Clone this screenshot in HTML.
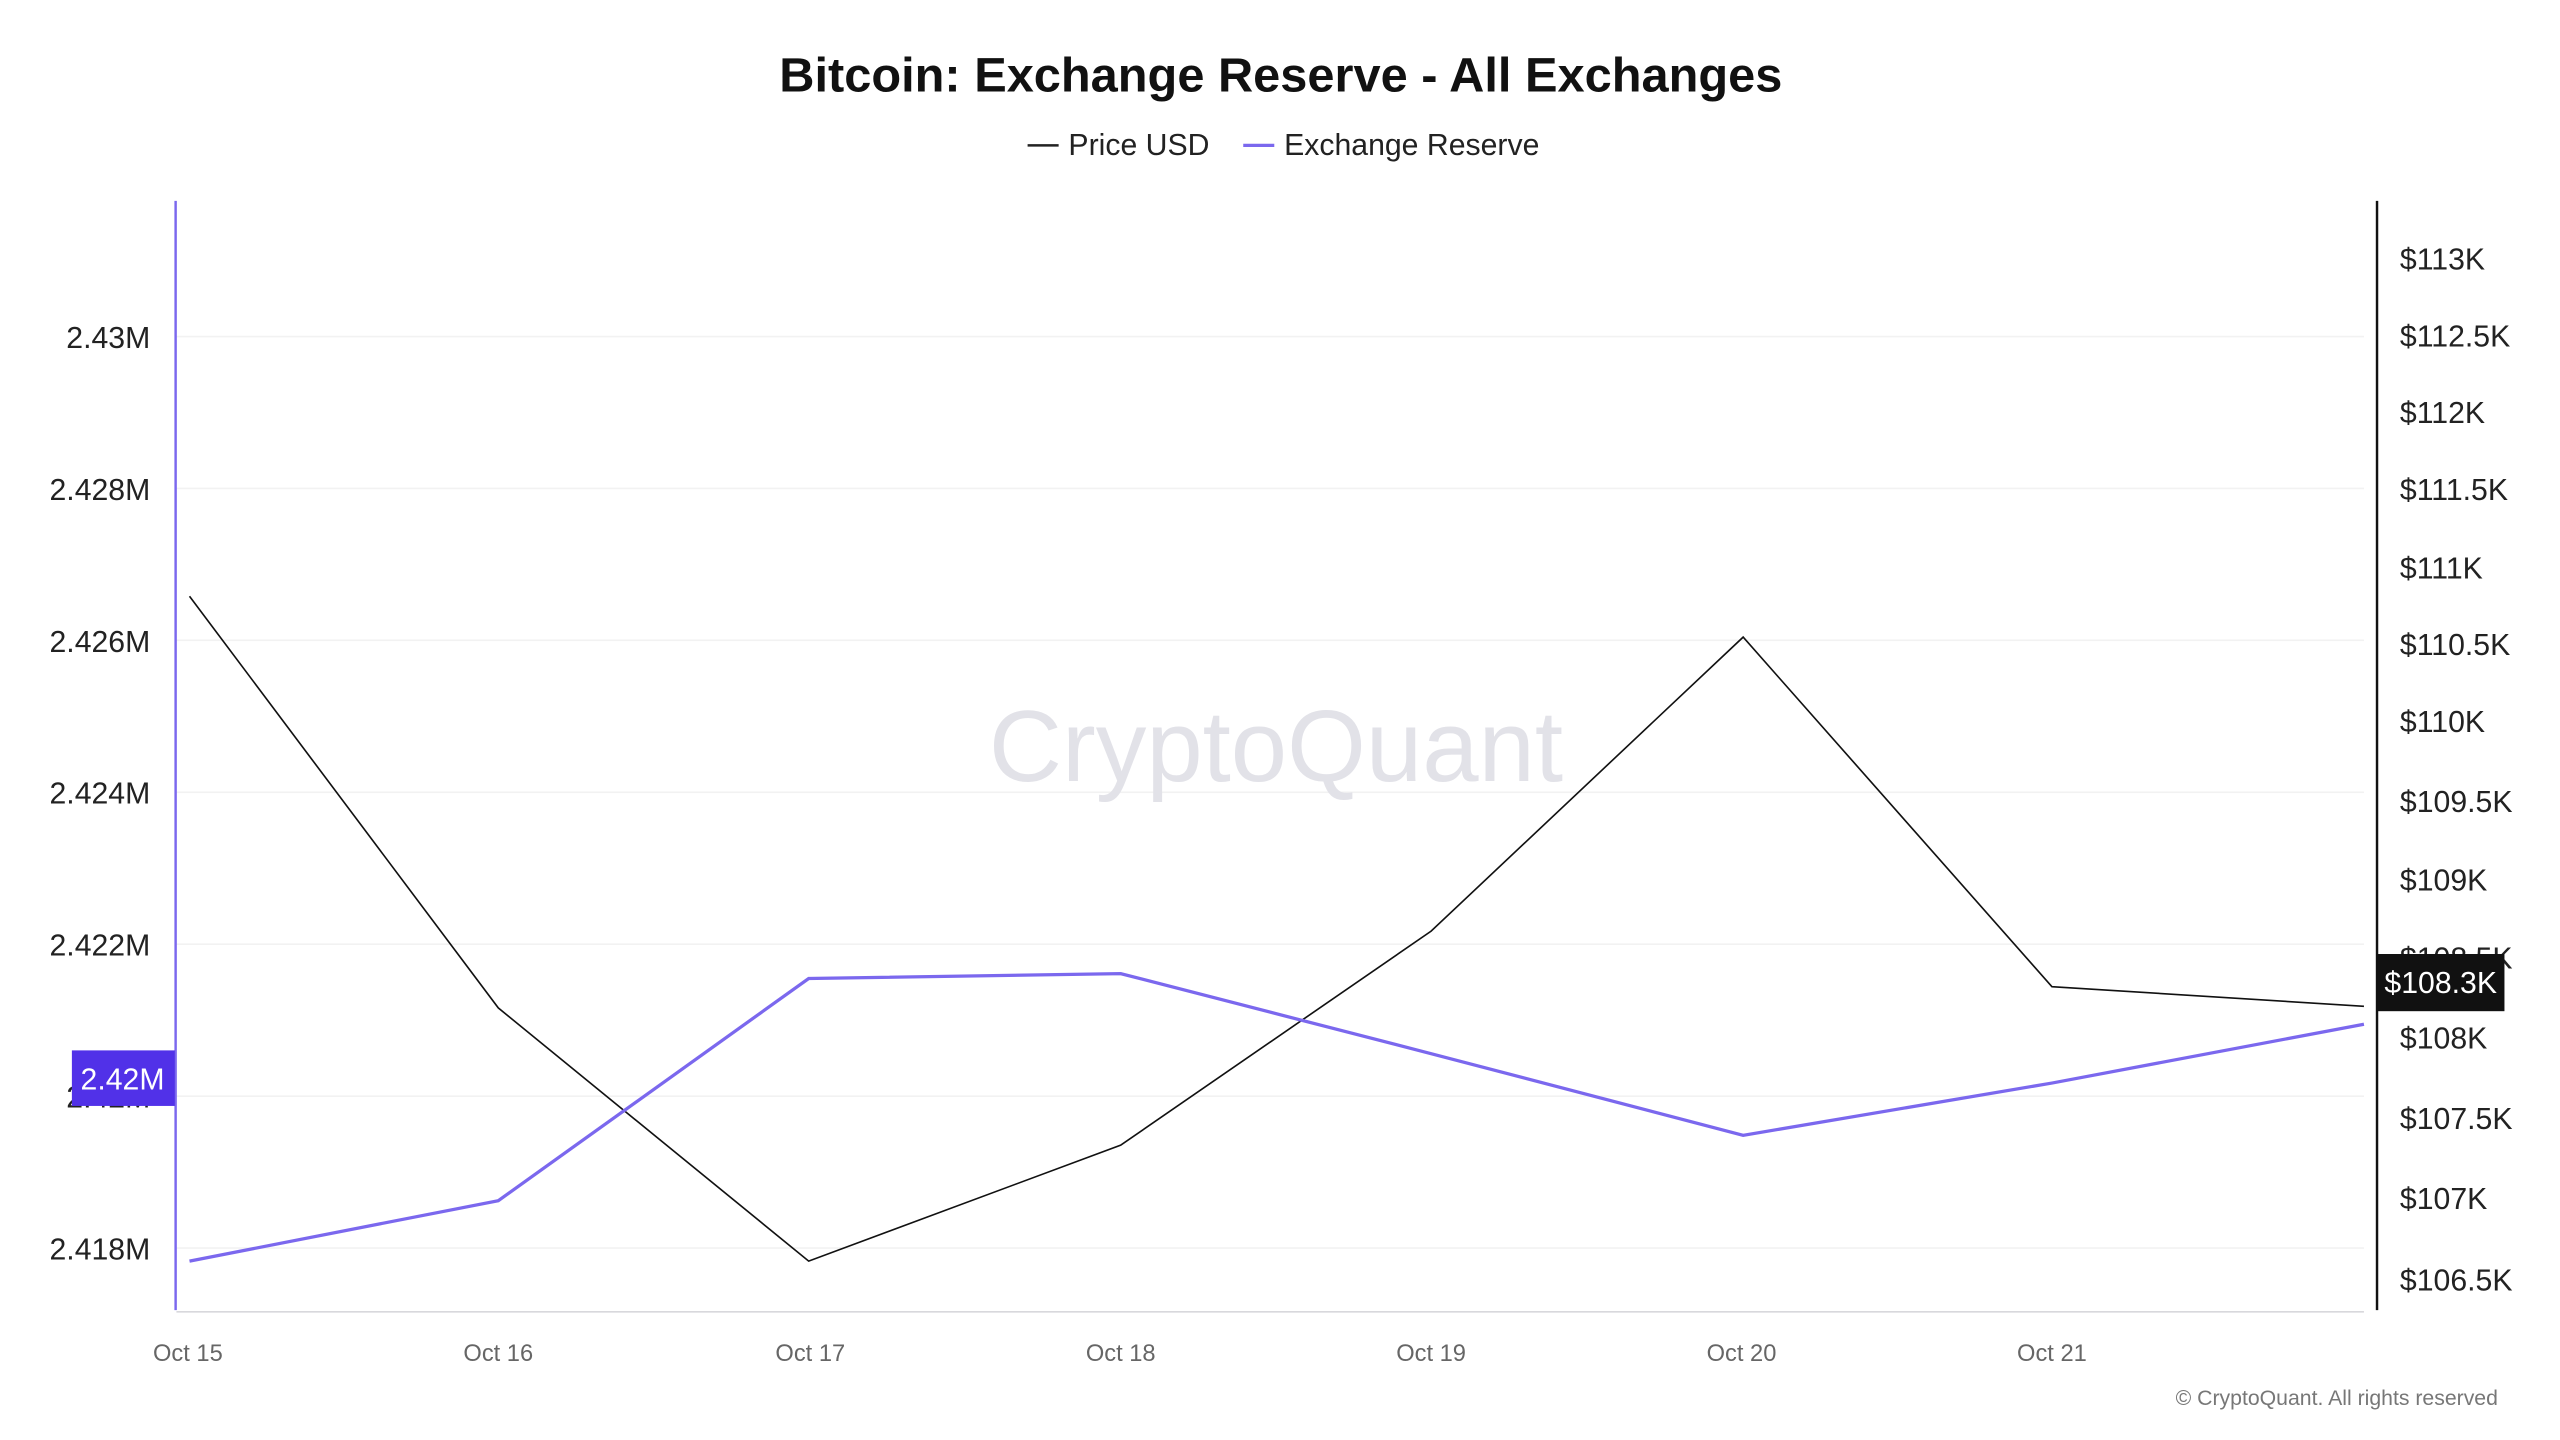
<!DOCTYPE html>
<html><head><meta charset="utf-8"><style>html,body{margin:0;padding:0;background:#fff;}svg{display:block}</style></head>
<body>
<svg width="2560" height="1440" viewBox="0 0 1567 881.5" preserveAspectRatio="none" xmlns="http://www.w3.org/2000/svg" font-family="Liberation Sans, sans-serif">
<rect width="1567" height="881.5" fill="#fff"/>
<text x="784" y="56" text-anchor="middle" font-size="29.5" font-weight="bold" fill="#111" textLength="614" lengthAdjust="spacingAndGlyphs">Bitcoin: Exchange Reserve - All Exchanges</text>
<line x1="629" y1="89" x2="648" y2="89" stroke="#222" stroke-width="1.5"/>
<text x="654" y="95" font-size="18.5" fill="#222">Price USD</text>
<line x1="761" y1="89" x2="780" y2="89" stroke="#7b68ee" stroke-width="2"/>
<text x="786" y="95" font-size="18.5" fill="#222">Exchange Reserve</text>
<g stroke="#f2f2f2" stroke-width="1">
<line x1="108" y1="206" x2="1447" y2="206"/><line x1="108" y1="299" x2="1447" y2="299"/><line x1="108" y1="392" x2="1447" y2="392"/><line x1="108" y1="485" x2="1447" y2="485"/><line x1="108" y1="578" x2="1447" y2="578"/><line x1="108" y1="671" x2="1447" y2="671"/><line x1="108" y1="764" x2="1447" y2="764"/>
</g>
<text x="781" y="478" text-anchor="middle" font-size="62" fill="#e2e2e8">CryptoQuant</text>
<line x1="108" y1="803" x2="1447" y2="803" stroke="#d8d8dc" stroke-width="1"/>
<line x1="107.5" y1="123" x2="107.5" y2="802" stroke="#7b68ee" stroke-width="1.5"/>
<line x1="1455" y1="123" x2="1455" y2="802" stroke="#111" stroke-width="1.5"/>
<g font-size="18.5" fill="#222" text-anchor="end">
<text x="92" y="213">2.43M</text><text x="92" y="306">2.428M</text><text x="92" y="399">2.426M</text><text x="92" y="492">2.424M</text><text x="92" y="585">2.422M</text><text x="92" y="678">2.42M</text><text x="92" y="771">2.418M</text>
</g>
<g font-size="18.5" fill="#222">
<text x="1469" y="165">$113K</text><text x="1469" y="212">$112.5K</text><text x="1469" y="259">$112K</text><text x="1469" y="306">$111.5K</text><text x="1469" y="354">$111K</text><text x="1469" y="401">$110.5K</text><text x="1469" y="448">$110K</text><text x="1469" y="497">$109.5K</text><text x="1469" y="545">$109K</text><text x="1469" y="593">$108.5K</text><text x="1469" y="642">$108K</text><text x="1469" y="691">$107.5K</text><text x="1469" y="740">$107K</text><text x="1469" y="790">$106.5K</text>
</g>
<g font-size="14.5" fill="#666" text-anchor="middle">
<text x="115" y="833">Oct 15</text><text x="305" y="833">Oct 16</text><text x="496" y="833">Oct 17</text><text x="686" y="833">Oct 18</text><text x="876" y="833">Oct 19</text><text x="1066" y="833">Oct 20</text><text x="1256" y="833">Oct 21</text>
</g>
<polyline fill="none" stroke="#111" stroke-width="1" points="116,365 305,617 495,772 686,701 876,570 1067,390 1256,604 1447,616"/>
<polyline fill="none" stroke="#7b68ee" stroke-width="2" points="116,772 305,735 495,599 686,596 876,645 1067,695 1256,663 1447,627"/>
<rect x="44" y="643" width="63" height="34" fill="#5131e8"/>
<text x="75" y="667" text-anchor="middle" font-size="18.5" fill="#fff">2.42M</text>
<rect x="1455" y="584" width="78" height="35" fill="#111"/>
<text x="1494" y="608" text-anchor="middle" font-size="18.5" fill="#fff">$108.3K</text>
<text x="1529" y="860" text-anchor="end" font-size="13" fill="#777">© CryptoQuant. All rights reserved</text>
</svg>
</body></html>
